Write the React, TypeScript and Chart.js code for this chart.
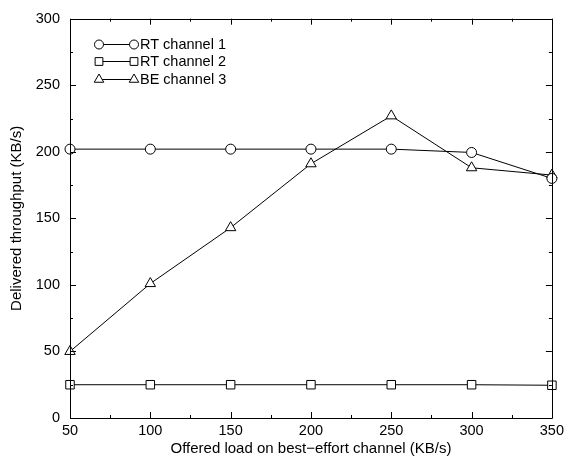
import React, { useEffect, useRef } from "react";
import { Chart, registerables } from "chart.js";
import { drawPoint } from "chart.js/helpers";

Chart.register(...registerables);

const loads = [50, 100, 150, 200, 250, 300, 350];
const rtChannel1 = [202, 202, 202, 202, 202, 199.5, 180];
const rtChannel2 = [25, 25, 25, 25, 25, 25, 24.6];
const beChannel3 = [50, 101, 143, 191, 227, 188, 182.5];
const seriesNames = ["RT channel 1", "RT channel 2", "BE channel 3"];
const seriesStyles = ["circle", "rect", "triangle"];
const seriesRadius = [5, 6, 6];
const xTitle = "Offered load on best\u2212effort channel (KB/s)";
const yTitle = "Delivered throughput (KB/s)";

const FONT = "'Liberation Sans', Arial, Helvetica, sans-serif";

const framePlugin = {
  id: "frameTicks",
  afterDraw(chart: any) {
    const { ctx, chartArea: a } = chart;
    const xs = chart.scales.x;
    const ys = chart.scales.y;
    ctx.save();
    ctx.strokeStyle = "#000";
    ctx.lineWidth = 1;
    ctx.beginPath();
    ctx.rect(Math.round(a.left) + 0.5, Math.round(a.top) + 0.5, Math.round(a.right - a.left), Math.round(a.bottom - a.top));
    ctx.stroke();
    ctx.beginPath();
    for (let v = xs.min; v <= xs.max + 0.001; v += 25) {
      const major = Math.abs((v - xs.min) % 50) < 0.001;
      const len = major ? 6 : 3;
      const px = Math.round(xs.getPixelForValue(v)) + 0.5;
      ctx.moveTo(px, a.bottom);
      ctx.lineTo(px, a.bottom - len);
      ctx.moveTo(px, a.top);
      ctx.lineTo(px, a.top + len);
    }
    for (let v = ys.min; v <= ys.max + 0.001; v += 25) {
      const major = Math.abs(v % 50) < 0.001;
      const len = major ? 6 : 3;
      const py = Math.round(ys.getPixelForValue(v)) + 0.5;
      ctx.moveTo(a.left, py);
      ctx.lineTo(a.left + len, py);
      ctx.moveTo(a.right, py);
      ctx.lineTo(a.right - len, py);
    }
    ctx.stroke();

    // legend
    const lx0 = a.left + 29;
    const lx1 = a.left + 64;
    const ty = a.top + 25;
    const gap = 17.5;
    ctx.font = "14.5px " + FONT;
    ctx.textBaseline = "middle";
    ctx.textAlign = "left";
    chart.data.datasets.forEach((ds: any, i: number) => {
      const y = Math.round(ty + i * gap);
      ctx.strokeStyle = "#000";
      ctx.lineWidth = 1;
      ctx.beginPath();
      ctx.moveTo(lx0, y + 0.5);
      ctx.lineTo(lx1, y + 0.5);
      ctx.stroke();
      ctx.fillStyle = "#fff";
      const opts = { pointStyle: ds.pointStyle, radius: ds.pointRadius - 0.5, rotation: 0, borderWidth: 1 };
      drawPoint(ctx, opts, lx0, y + 0.5);
      drawPoint(ctx, opts, lx1, y + 0.5);
      ctx.fillStyle = "#000";
      ctx.fillText(ds.label, lx1 + 6, y + 1);
    });
    ctx.restore();
  },
};

export default function App() {
  const ref = useRef<HTMLCanvasElement | null>(null);
  useEffect(() => {
    document.body.style.margin = "0";
    const series = [rtChannel1, rtChannel2, beChannel3];
    const chart = new Chart(ref.current as HTMLCanvasElement, {
      type: "line",
      data: {
        labels: loads,
        datasets: series.map((vals, i) => ({
          label: seriesNames[i],
          data: vals.map((v, j) => ({ x: loads[j], y: v })),
          borderColor: "#000",
          borderWidth: 1,
          pointStyle: seriesStyles[i],
          pointRadius: seriesRadius[i],
          pointBackgroundColor: "#fff",
          pointBorderColor: "#000",
          pointBorderWidth: 1,
          tension: 0,
          clip: false,
        })),
      },
      options: {
        animation: false,
        responsive: false,
        layout: { padding: { top: 15, right: 12, left: 0, bottom: 0 } },
        plugins: { legend: { display: false }, tooltip: { enabled: false } },
        scales: {
          x: {
            type: "linear",
            min: 50,
            max: 350,
            grid: { display: false, drawTicks: false },
            border: { display: false },
            ticks: { stepSize: 50, color: "#000", font: { size: 14.5, family: FONT }, padding: 4, maxRotation: 0 },
            title: { display: true, text: xTitle, color: "#000", font: { size: 15, family: FONT }, padding: { top: 0, bottom: 0 } },
            afterFit: (s: any) => { s.height = 40; },
          },
          y: {
            type: "linear",
            min: 0,
            max: 300,
            grid: { display: false, drawTicks: false },
            border: { display: false },
            ticks: { stepSize: 50, color: "#000", font: { size: 14.5, family: FONT }, padding: 10 },
            title: { display: true, text: yTitle, color: "#000", font: { size: 15, family: FONT }, padding: { top: 8, bottom: 0 } },
            afterFit: (s: any) => { s.width = 70; },
          },
        },
      },
      plugins: [framePlugin],
    } as any);
    return () => chart.destroy();
  }, []);
  return (
    <div style={{ width: 568, height: 458 }}>
      <canvas ref={ref} width={568} height={458} />
    </div>
  );
}
